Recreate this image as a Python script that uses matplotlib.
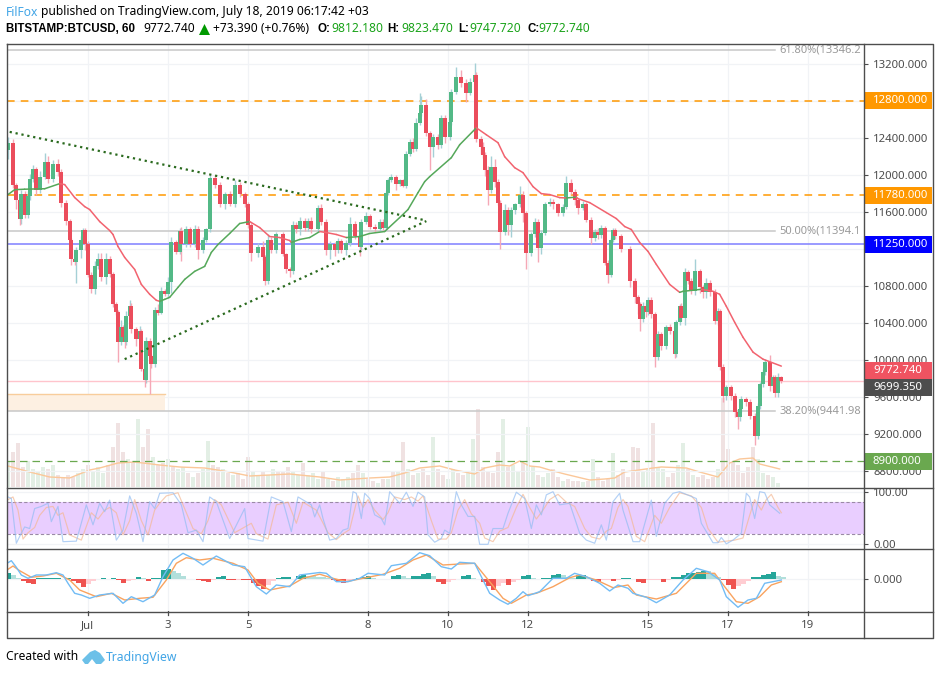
import numpy as np
import matplotlib
matplotlib.use("Agg")
import matplotlib.pyplot as plt
from matplotlib.lines import Line2D
from matplotlib.patches import Polygon, Rectangle
from matplotlib.transforms import Affine2D

plt.rcParams["font.family"] = "Noto Sans"

# x axis is hours since the first candle of the view
candle_hour = [
    0, 3, 5, 7, 8, 10, 12, 13, 15, 17,
    19, 22, 24, 27, 30, 32, 35, 37, 38, 40,
    41, 44, 45, 46, 48, 50, 52, 54, 56, 59,
    61, 63, 65, 66, 68, 69, 70, 71, 73, 74,
    77, 79, 80, 82, 83, 85, 86, 88, 90, 92,
    94, 96, 98, 101, 103, 104, 107, 109, 112, 114,
    117, 119, 121, 124, 127, 130, 133, 136, 139, 142,
    144, 146, 150, 153, 154, 156, 158, 161, 165, 167,
    169, 171, 173, 175, 178, 180, 182, 186, 188, 191,
    193, 196, 198, 200, 203, 205, 208, 211, 212, 215,
    217, 220, 223, 225, 227, 228, 230, 233, 235, 237,
    239, 241, 243, 245, 247, 248, 251, 253, 255, 258,
    260, 262, 265, 266, 269, 272, 275, 277, 280, 281,
    284, 285, 286, 288, 290, 292, 294, 295, 298, 300,
    302, 304, 307, 309, 311, 314, 316, 318, 320, 322,
    325, 327, 330, 333, 335, 338, 340, 342, 345, 347,
    350, 352, 354, 356, 358, 360, 362, 363, 364, 368, 373,
    376, 378, 379, 381, 383, 384, 386, 388, 390, 392,
    395, 397, 400, 401, 403, 404, 406, 408, 410, 412,
    415, 417, 419, 421, 424, 426, 427, 429, 431, 434,
    436, 438, 439, 440, 443, 445, 448, 450, 451, 453,
    454, 457, 459, 460, 462, 464,
]
first_open = 12270
candle_close = [
    12350, 11890, 11730, 11520, 11790, 11570, 11770, 11950, 12060, 11840,
    11980, 12140, 11950, 12120, 12030, 11700, 11500, 11300, 11090, 11060,
    11190, 11300, 11400, 11250, 10920, 10770, 11010, 11090, 10890, 11090,
    10930, 10600, 10520, 10190, 10350, 10250, 10190, 10470, 10580, 10330,
    10220, 10310, 9900, 9780, 10200, 10040, 9950, 10540, 10510, 10740,
    10710, 10840, 11270, 11170, 11390, 11250, 11410, 11250, 11410, 11190,
    11300, 11410, 11970, 11890, 11680, 11790, 11680, 11890, 11790, 11680,
    11460, 11160, 11225, 11110, 10850, 11300, 11190, 11355, 11140, 10980,
    10960, 11460, 11410, 11500, 11430, 11500, 11410, 11640, 11495, 11190,
    11250, 11190, 11280, 11190, 11260, 11470, 11340, 11215, 11495, 11550,
    11440, 11410, 11495, 11430, 11800, 11940, 11980, 11905, 11940, 11885,
    12230, 12360, 12285, 12565, 12670, 12760, 12455, 12305, 12410, 12325,
    12615, 12410, 12575, 12900, 13060, 12995, 12890, 13005, 13080, 12390,
    12305, 12220, 12055, 11840, 12090, 11925, 11700, 11385, 11625, 11460,
    11625, 11680, 11785, 11590, 11160, 11355, 11485, 11205, 11375, 11680,
    11710, 11680, 11590, 11655, 11915, 11820, 11730, 11645, 11690, 11515,
    11320, 11385, 11345, 11430, 11050, 10920, 11300, 11400, 11335, 11200, 10850,
    10675, 10600, 10440, 10580, 10515, 10650, 10490, 10030, 10275, 10145,
    10350, 10310, 10060, 10405, 10580, 10450, 10945, 10850, 10740, 10955,
    10785, 10730, 10835, 10730, 10415, 10525, 9920, 9605, 9705, 9605,
    9435, 9380, 9465, 9575, 9540, 9390, 9175, 9500, 9735, 9865,
    9975, 9715, 9810, 9640, 9812, 9773,
]
wick_up = [
    60, 40, 20, 30, 50, 40, 60, 60, 50, 30,
    60, 100, 60, 40, 50, 30, 30, 20, 20, 20,
    30, 40, 20, 20, 30, 30, 60, 60, 60, 60,
    30, 20, 30, 20, 80, 30, 30, 60, 70, 30,
    20, 60, 20, 20, 50, 40, 20, 30, 60, 50,
    20, 60, 60, 30, 30, 50, 40, 30, 50, 40,
    30, 20, 30, 30, 30, 30, 40, 50, 30, 30,
    30, 20, 40, 60, 20, 60, 30, 30, 30, 20,
    20, 40, 30, 40, 30, 30, 40, 30, 50, 30,
    30, 20, 40, 30, 40, 70, 30, 20, 30, 50,
    30, 30, 30, 30, 30, 30, 30, 20, 20, 20,
    30, 30, 40, 50, 220, 90, 60, 20, 30, 30,
    30, 30, 40, 30, 110, 70, 40, 40, 130, 30,
    30, 50, 30, 40, 110, 80, 30, 30, 60, 30,
    30, 20, 100, 40, 20, 30, 50, 40, 30, 30,
    40, 30, 20, 30, 70, 40, 30, 20, 30, 20,
    30, 30, 40, 30, 20, 30, 20, 30, 30, 20, 30,
    30, 30, 20, 40, 30, 30, 30, 30, 40, 30,
    30, 40, 30, 30, 20, 30, 50, 30, 30, 140,
    30, 20, 50, 30, 30, 30, 20, 30, 20, 20,
    30, 30, 40, 30, 20, 30, 30, 30, 20, 40,
    30, 80, 30, 20, 40, 11,
]
wick_down = [
    100, 30, 100, 60, 50, 40, 40, 40, 30, 60,
    40, 30, 40, 30, 40, 50, 40, 40, 60, 40,
    230, 90, 40, 60, 30, 50, 60, 30, 40, 70,
    30, 30, 40, 210, 30, 30, 60, 30, 30, 40,
    70, 30, 20, 80, 30, 410, 40, 30, 30, 20,
    20, 40, 120, 30, 30, 180, 30, 30, 30, 100,
    30, 30, 30, 30, 30, 50, 20, 30, 30, 30,
    40, 90, 50, 30, 40, 30, 40, 30, 20, 40,
    70, 30, 40, 60, 40, 40, 40, 30, 40, 60,
    100, 70, 30, 30, 60, 30, 30, 90, 30, 30,
    30, 30, 20, 30, 30, 20, 20, 70, 20, 20,
    30, 30, 40, 30, 30, 30, 30, 250, 110, 40,
    30, 60, 30, 40, 20, 40, 100, 30, 30, 30,
    80, 40, 70, 170, 40, 60, 30, 190, 40, 110,
    130, 50, 30, 100, 180, 40, 30, 150, 60, 30,
    20, 50, 30, 30, 20, 30, 60, 70, 30, 30,
    70, 40, 40, 30, 30, 90, 20, 30, 30, 30, 60,
    60, 100, 130, 30, 50, 30, 40, 110, 30, 40,
    30, 30, 40, 30, 30, 30, 70, 30, 30, 40,
    60, 60, 60, 40, 30, 40, 30, 60, 40, 40,
    60, 130, 40, 30, 40, 30, 100, 30, 30, 30,
    30, 50, 50, 40, 40, 25,
]

# moving average, green while it rises and red while it falls
ma_hour = [
    0, 4, 10, 22, 31, 34, 40, 46, 49, 55, 61, 63, 66, 70, 76, 80, 85, 89, 91,
    94, 97, 102, 106, 112, 118, 122, 126, 133, 139, 145, 146, 151, 157, 163,
    169, 170, 175, 181, 187, 191, 197, 203, 211, 217, 226, 235, 240, 246, 250,
    253, 266, 271, 281, 287, 294, 298, 304, 309, 315, 320, 325, 331, 335, 341,
    342, 349, 359, 365, 370, 374, 379, 384, 389, 397, 403, 405, 416, 423, 427,
    431, 436, 441, 447, 453, 464,
]
ma_price = [
    11787, 11840, 11845, 11850, 11905, 11895, 11755, 11657, 11625, 11495, 11398,
    11355, 11225, 11107, 10977, 10815, 10708, 10643, 10632, 10653, 10675, 10783,
    10869, 10956, 11010, 11161, 11247, 11366, 11474, 11495, 11484, 11430, 11333,
    11322, 11290, 11269, 11301, 11322, 11387, 11376, 11355, 11322, 11333, 11366,
    11387, 11538, 11625, 11808, 11927, 11981, 12186, 12326, 12509, 12434, 12348,
    12197, 12078, 12024, 11873, 11797, 11787, 11754, 11750, 11760, 11743, 11700,
    11592, 11527, 11441, 11409, 11269, 11172, 11031, 10815, 10729, 10740, 10762,
    10740, 10708, 10578, 10405, 10243, 10082, 10006, 9931,
]

# volume in the height units of the lower part of the price pane
volume = [
    25, 35, 44, 20, 26, 18, 15, 20, 18, 22, 12, 10, 12, 10, 14, 18, 22, 16, 20,
    14, 22, 40, 64, 35, 28, 25, 68, 40, 58, 30, 22, 24, 28, 20, 18, 20, 14, 10,
    14, 18, 46, 22, 20, 18, 14, 12, 14, 8, 30, 16, 12, 15, 12, 18, 16, 15, 20,
    16, 12, 24, 12, 14, 8, 16, 8, 6, 10, 8, 10, 14, 22, 14, 8, 6, 4, 8, 8, 16,
    15, 45, 18, 12, 14, 18, 12, 50, 18, 12, 8, 18, 14, 12, 14, 48, 78, 20, 16,
    14, 35, 68, 20, 22, 16, 24, 60, 20, 12, 10, 14, 18, 10, 6, 8, 6, 6, 5, 6,
    28, 10, 6, 8, 34, 12, 18, 10, 40, 39, 15, 18, 64, 20, 18, 10, 14, 22, 44,
    18, 12, 10, 12, 8, 10, 18, 90, 38, 25, 22, 14, 20, 40, 28, 14, 12, 10, 4,
]
vol_ma_hour = [
    0, 13, 25, 37, 49, 55, 66, 76, 91, 103, 118, 133, 145, 169, 187, 199, 217,
    229, 238, 247, 259, 268, 280, 286, 295, 301, 307, 313, 319, 325, 334, 349,
    358, 364, 370, 387, 392, 407, 415, 426, 433, 439, 447, 451, 463,
]
vol_ma = [
    21, 15, 10, 9, 17, 19, 24, 25, 22, 20, 19, 15, 11, 13, 10, 7, 9, 10, 14, 19,
    21, 17, 13, 19, 22, 21, 26, 21, 20, 17, 13, 7, 8, 9, 15, 19, 20, 19, 15, 10,
    24, 28, 29, 23, 18,
]

# stochastic RSI
k_hour = [
    0, 2, 5, 7, 10, 13, 16, 20, 24, 26, 30, 33, 41, 47, 51, 55, 58, 61, 65, 69,
    73, 77, 81, 85, 88, 91, 99, 104, 108, 113, 117, 121, 125, 133, 142, 144,
    153, 158, 165, 170, 174, 182, 184, 187, 189, 193, 197, 201, 204, 207, 209,
    212, 214, 217, 220, 224, 226, 229, 235, 239, 243, 246, 250, 252, 256, 260,
    262, 265, 269, 272, 276, 280, 283, 288, 291, 297, 300, 305, 310, 314, 317,
    320, 323, 327, 331, 337, 343, 347, 352, 356, 359, 363, 367, 369, 375, 379,
    386, 389, 394, 399, 403, 413, 416, 423, 426, 428, 431, 435, 440, 443, 445,
    448, 451, 454, 457, 463,
]
k_val = [
    90, 87, 2, 15, 33, 30, 68, 72, 78, 43, 72, 5, 6, 75, 37, 78, 62, 84, 8, 27,
    92, 59, 5, 81, 68, 97, 98, 75, 22, 27, 5, 90, 81, 11, 68, 11, 6, 90, 81, 24,
    90, 75, 52, 75, 49, 8, 11, 27, 30, 100, 97, 49, 97, 87, 56, 49, 37, 100, 78,
    99, 72, 99, 90, 18, 4, 11, 27, 21, 100, 75, 53, 53, 0, 0, 30, 30, 59, 99,
    87, 30, 75, 56, 94, 100, 75, 78, 21, 8, 2, 37, 8, 81, 97, 65, 5, 5, 84, 15,
    78, 97, 100, 87, 40, 3, 3, 13, 1, 8, 21, 97, 90, 49, 100, 98, 75, 59,
]
d_hour = [
    0, 3, 6, 9, 12, 16, 19, 23, 27, 30, 33, 37, 44, 50, 54, 58, 61, 65, 69, 73,
    76, 80, 84, 88, 91, 95, 102, 107, 111, 116, 120, 124, 128, 136, 146, 149,
    156, 161, 168, 173, 177, 185, 192, 197, 201, 205, 210, 213, 216, 220, 225,
    228, 232, 238, 242, 246, 249, 254, 258, 263, 266, 270, 274, 278, 283, 286,
    291, 295, 300, 305, 309, 313, 317, 321, 325, 330, 335, 340, 346, 350, 355,
    359, 362, 366, 369, 372, 377, 382, 388, 392, 397, 403, 410, 416, 420, 426,
    431, 436, 441, 445, 448, 452, 455, 458, 462, 464,
]
d_val = [
    85, 90, 65, 10, 22, 32, 55, 70, 72, 55, 60, 18, 8, 60, 48, 65, 70, 60, 18,
    45, 85, 45, 18, 65, 78, 92, 98, 60, 30, 20, 45, 85, 75, 22, 40, 20, 10, 75,
    80, 40, 80, 65, 22, 9, 20, 28, 92, 70, 85, 65, 47, 60, 90, 85, 90, 82, 92,
    45, 10, 10, 22, 65, 85, 58, 40, 12, 5, 25, 32, 70, 95, 70, 48, 65, 85, 95,
    80, 72, 30, 14, 10, 25, 30, 70, 85, 72, 15, 5, 55, 40, 70, 98, 92, 70, 30,
    4, 6, 8, 12, 55, 85, 65, 85, 95, 70, 60,
]

# MACD
macd_hour = [
    0, 2, 5, 8, 12, 17, 23, 29, 33, 36, 40, 44, 49, 55, 63, 69, 74, 81, 88, 93,
    99, 105, 111, 117, 125, 135, 142, 149, 155, 161, 169, 175, 187, 191, 197,
    204, 211, 216, 226, 230, 239, 247, 253, 260, 266, 271, 280, 285, 289, 295,
    300, 305, 309, 312, 319, 327, 335, 340, 347, 355, 361, 366, 372, 375, 383,
    389, 397, 405, 413, 420, 427, 431, 438, 444, 449, 454, 464,
]
macd_val = [
    163, 183, 117, 40, 7, 40, 40, 63, 40, -43, -143, -160, -193, -160, -143,
    -243, -177, -227, -160, 23, 190, 257, 207, 140, 230, 140, 123, -77, -150,
    -60, -77, 40, 65, 57, -27, -27, 7, 57, 40, 133, 157, 263, 233, 123, 100,
    167, 157, -10, -143, -210, -253, -193, -127, -167, -127, 7, 7, 57, 23, -43,
    -120, -60, -93, -143, -183, -237, -160, -10, 107, 73, -10, -177, -283, -210,
    -193, -43, -10,
]
signal_hour = [
    0, 3, 7, 14, 21, 29, 37, 43, 53, 62, 70, 79, 87, 95, 101, 107, 115, 123,
    135, 144, 150, 157, 169, 177, 187, 195, 203, 213, 225, 235, 243, 251, 261,
    271, 280, 289, 297, 302, 311, 317, 327, 337, 343, 353, 363, 372, 377, 389,
    401, 413, 424, 430, 437, 444, 451, 458, 464,
]
signal_val = [
    97, 130, 83, 17, 30, 57, -10, -110, -177, -143, -210, -193, -183, -10, 157,
    213, 190, 207, 157, 90, -43, -110, -70, 7, 48, 7, -27, 7, 47, 107, 190, 240,
    140, 150, 157, -27, -193, -243, -160, -143, -77, 13, 40, -10, -87, -60,
    -160, -200, -143, 57, 57, -77, -227, -243, -177, -60, -27,
]
# one histogram value every 3 hours
hist_val = [
    65, 40, 10, -15, -40, -50, 7, 7, 8, 8, 8, 5, 8, -20, -40, -75, -45, -15, 5,
    6, 3, 15, -5, -35, -15, -5, 20, 10, -20, 8, 10, 90, 100, 85, 60, 30, 5, 2,
    -10, -15, -25, -8, 25, 35, -10, -12, -5, -8, -12, -40, -70, -100, -60, -15,
    15, 20, 25, 5, 30, 45, 35, 30, 25, 20, 15, -5, -30, -35, -15, -5, 15, 20,
    28, 15, 5, 3, 2, 30, 40, 28, 15, 30, 35, 55, 60, 30, -30, -45, -25, -12, -3,
    30, 42, 15, 3, -30, -70, -110, -70, -40, -60, -25, -5, 30, 42, 15, 2, 10,
    12, 40, 55, 40, 25, 10, 40, 45, 10, -15, -25, -10, -5, -22, -5, 10, 12, 5,
    -25, -35, -10, -8, -5, -30, -8, 20, 25, 45, 60, 65, 75, 82, 80, 50, 25, -10,
    -60, -100, -70, -45, -15, 20, 22, 40, 50, 70, 35, 25,
]

# drawn levels and tools
trend_upper_hour = [1, 251]
trend_upper_price = [12465, 11506]
trend_lower_hour = [70, 251]
trend_lower_price = [10006, 11500]
fib_levels = [13346.2, 11394.1, 9441.98]
fib_labels = ["61.80%(13346.2", "50.00%(11394.1", "38.20%(9441.98"]
fib_end_hour = 460
zone_hour = [-1, 94]
zone_price = [9445, 9630]
last_price = 9772.74

price_ticks = [13200, 12800, 12400, 12000, 11600, 11200, 10800, 10400, 10000, 9600, 9200, 8800]
# these two grid levels have their label hidden behind a tag in the original
hidden_ticks = [12800, 11200]
time_ticks = [48, 96, 144, 216, 264, 312, 384, 432, 480]
time_labels = ["Jul", "3", "5", "8", "10", "12", "15", "17", "19"]

# tag text, tag centre, colour
tag_text = ["12800.000", "11780.000", "11250.000", "9772.740", "9699.350", "8900.000"]
tag_price = [12800, 11780, 11250, 9885, 9699, 8900]
tag_color = ["#ff9800", "#ff9800", "#0000ff", "#ef5361", "#4d4d4d", "#6aa84f"]

GREEN = "#53b987"
RED = "#eb4d5c"
GRID = "#f1f3f6"
TEXT = "#4c4c4c"
XLIM = (-0.6, 513.6)
AXIS_SIZE = 8.2

W, H = 939, 675
fig = plt.figure(figsize=(W / 100, H / 100), dpi=100, facecolor="white")
px = Affine2D().scale(1, -1).translate(0, H)


def pane(left, top, right, bottom):
    a = fig.add_axes([left / W, 1 - bottom / H, (right - left) / W, (bottom - top) / H])
    for s in a.spines.values():
        s.set_visible(False)
    a.set_xlim(*XLIM)
    a.set_xticks(time_ticks)
    a.set_xticklabels([])
    a.tick_params(axis="x", length=0)
    a.yaxis.tick_right()
    a.tick_params(axis="y", length=3, width=0.8, color=TEXT, labelcolor=TEXT,
                  labelsize=AXIS_SIZE, pad=3.5)
    a.grid(True, color=GRID, lw=0.9)
    a.set_axisbelow(True)
    return a


# volume sits under the price pane
vol_ax = fig.add_axes([7 / W, 1 - 487 / H, 857 / W, 443 / H])
vol_ax.set_xlim(*XLIM)
vol_ax.set_ylim(0, 443)
vol_ax.axis("off")

candle_hour = np.array(candle_hour)
candle_close = np.array(candle_close, dtype=float)
candle_open = np.r_[first_open, candle_close[:-1]]
rising = candle_close >= candle_open
body_top = np.maximum(candle_open, candle_close)
body_bot = np.minimum(candle_open, candle_close)

vol_hour = 3 * np.arange(len(volume))
vol_idx = np.clip(np.searchsorted(candle_hour, vol_hour), 0, len(rising) - 1)
vol_ax.bar(vol_hour, volume, width=2.0, lw=0,
           color=np.where(rising[vol_idx], "#e3efe5", "#f0e2e2"))
vol_ax.plot(vol_ma_hour, vol_ma, color="#fbc799", lw=1.0, zorder=3)

ax = pane(7, 44, 864, 487)
ax.patch.set_alpha(0)
ax.set_ylim(8623, 13416)
ax.set_yticks(price_ticks)
ax.set_yticklabels(["" if t in hidden_ticks else f"{t}.000" for t in price_ticks])

ax.add_patch(Rectangle((zone_hour[0], zone_price[0]), zone_hour[1] - zone_hour[0],
                       zone_price[1] - zone_price[0], fc="#fdf0e2", ec="none", zorder=1))
ax.plot(zone_hour, [zone_price[1]] * 2, color="#f8cd9c", lw=1, zorder=1.2)
for lvl, lab in zip(fib_levels, fib_labels):
    ax.plot([XLIM[0], fib_end_hour], [lvl, lvl], color="#c8c8c8", lw=1.1, zorder=1.5)
    ax.text(463, lvl, lab, color="#9a9a9a", fontsize=8.0, va="center", clip_on=True)

ax.axhline(last_price, color="#ffc4cc", lw=1.0, zorder=1.6)
ax.axhline(12800, color="#ff9800", lw=1.1, ls=(0, (5, 4)), zorder=1.6)
ax.axhline(11780, color="#ff9800", lw=1.1, ls=(0, (5, 4)), zorder=1.6)
ax.axhline(11250, color="#7f7fff", lw=1.1, zorder=1.6)
ax.axhline(8900, color="#6aa84f", lw=0.9, ls=(0, (6, 4)), zorder=1.6)

ax.vlines(candle_hour[rising], body_bot[rising] - np.array(wick_down)[rising],
          body_top[rising] + np.array(wick_up)[rising], color="#a5d0d6", lw=1.0, zorder=2)
ax.vlines(candle_hour[~rising], body_bot[~rising] - np.array(wick_down)[~rising],
          body_top[~rising] + np.array(wick_up)[~rising], color="#f5a8b6", lw=1.0, zorder=2)
ax.bar(candle_hour, body_top - body_bot, bottom=body_bot, width=2.4, lw=0,
       color=np.where(rising, GREEN, RED), zorder=3)

for i in range(len(ma_hour) - 1):
    col = "#55a85a" if ma_price[i + 1] >= ma_price[i] else "#f2636f"
    ax.plot(ma_hour[i:i + 2], ma_price[i:i + 2], color=col, lw=1.1, zorder=4,
            solid_capstyle="round")

dots = (0, (1, 1.7))
ax.plot(trend_upper_hour, trend_upper_price, color="#2a6a1e", lw=1.6, ls=dots, zorder=4)
ax.plot(trend_lower_hour, trend_lower_price, color="#2a6a1e", lw=1.6, ls=dots, zorder=4)

# price tags in the right hand scale
tr = ax.get_yaxis_transform()
tag_h = 183
for txt, p, col in zip(tag_text, tag_price, tag_color):
    ax.add_patch(Rectangle((1.0, p - tag_h / 2), 68 / 857, tag_h, transform=tr, fc=col, ec="none",
                           clip_on=False, zorder=6))
    ax.text(1.0105, p, txt, transform=tr, color="white", fontsize=AXIS_SIZE, va="center",
            clip_on=False, zorder=7)

# stochastic RSI pane
rsi_ax = pane(7, 488, 864, 548)
rsi_ax.set_ylim(-7, 107)
rsi_ax.set_yticks([0, 100])
rsi_ax.set_yticklabels(["0.00", "100.00"])
rsi_ax.axhspan(20, 80, color="#e9ceff", lw=0, zorder=1)
rsi_ax.axhline(80, color="#9a8aa5", lw=0.8, ls=(0, (3, 2)), zorder=2)
rsi_ax.axhline(20, color="#9a8aa5", lw=0.8, ls=(0, (3, 2)), zorder=2)
rsi_ax.plot(d_hour, d_val, color="#f4b894", lw=0.85, alpha=0.7, zorder=3)
rsi_ax.plot(k_hour, k_val, color="#93bdf2", lw=0.85, alpha=0.7, zorder=3)

# MACD pane
macd_ax = pane(7, 549, 864, 611)
macd_ax.set_ylim(-320, 300)
macd_ax.set_yticks([0])
macd_ax.set_yticklabels(["0.000"])
hist_hour = 3 * np.arange(len(hist_val))
hist = np.array(hist_val, dtype=float)
step = np.r_[0, np.diff(hist)]
hist_col = np.where(hist >= 0, np.where(step >= 0, "#26a69a", "#b2dfdb"),
                    np.where(step <= 0, "#ef5350", "#ffcdd2"))
macd_ax.bar(hist_hour, hist, width=3.0, lw=0, color=hist_col, zorder=2)
macd_ax.plot(signal_hour, signal_val, color="#f9a35f", lw=1.0, zorder=3)
macd_ax.plot(macd_hour, macd_val, color="#72bcf5", lw=1.0, zorder=3)

# time scale
time_ax = fig.add_axes([7 / W, 1 - 638 / H, 857 / W, 27 / H])
time_ax.set_xlim(*XLIM)
time_ax.set_ylim(0, 1)
for s in time_ax.spines.values():
    s.set_visible(False)
time_ax.set_yticks([])
time_ax.set_xticks([])
for t, lab in zip(time_ticks, time_labels):
    time_ax.plot([t, t], [1, 0.84], color=TEXT, lw=0.9)
    time_ax.text(t, 0.46, lab, ha="center", va="center", color=TEXT, fontsize=AXIS_SIZE)

# outer frame and separators
FRAME = "#4d4d4d"
for xs, ys in [([6.5, 932.5, 932.5, 6.5, 6.5], [43.5, 43.5, 638, 638, 43.5]),
               ([6.5, 932.5], [487.5, 487.5]),
               ([6.5, 932.5], [548.5, 548.5]),
               ([6.5, 932.5], [611.5, 611.5]),
               ([864, 864], [43.5, 638])]:
    fig.add_artist(Line2D(xs, ys, transform=px, color=FRAME, lw=1.0, zorder=10))


def label(x, y, s, color="black", weight="normal", size=8.7, family="Noto Sans"):
    fig.text(x, y, s, transform=px, color=color, fontweight=weight, fontsize=size,
             va="center", ha="left", family=family)


def bold(x, y, s):
    label(x, y, s, weight="bold", size=8.3, family="Liberation Sans")


# header
label(6, 12, "FilFox", color="#42a5e6")
label(41, 12, "published on TradingView.com, July 18, 2019 06:17:42 +03")
bold(6, 29, "BITSTAMP:BTCUSD, 60")
label(143, 29, "9772.740")
fig.add_artist(Polygon([[199, 35], [210, 35], [204.5, 24]], closed=True, transform=px,
                       fc="#009900", ec="none"))
label(213, 29, "+73.390 (+0.76%)")
for x, s in [(317, "O:"), (387, "H:"), (458, "L:"), (527, "C:")]:
    bold(x, 29, s)
for x, s in [(331, "9812.180"), (401, "9823.470"), (469, "9747.720"), (538, "9772.740")]:
    label(x, 29, s, color="#1aa31a")

# footer
label(6, 657, "Created with")
fig.add_artist(Polygon([[82, 660], [90, 652], [95, 650], [100, 653], [105, 660], [101, 664],
                        [96, 664], [92, 659], [88, 664], [85, 664]],
                       closed=True, transform=px, fc="#6cc0e8", ec="none"))
label(106, 657, "TradingView", color="#42a5e6", size=8.8)

fig.savefig("out.png", dpi=100)
